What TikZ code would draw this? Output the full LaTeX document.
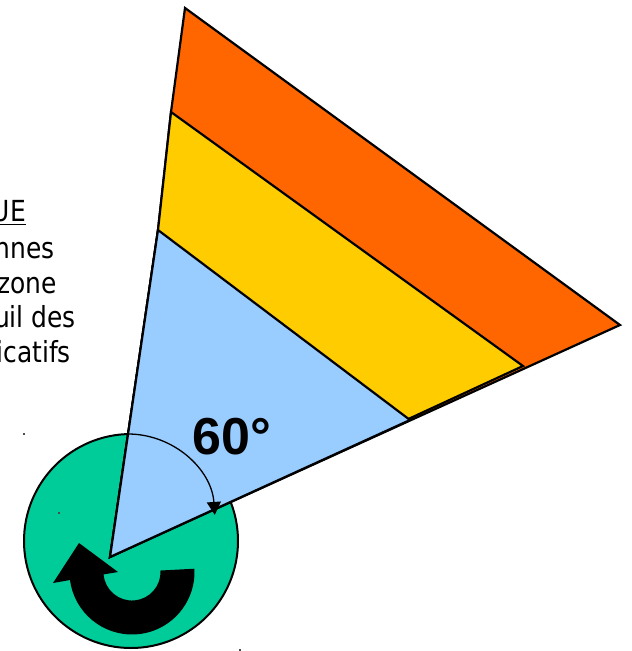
\documentclass[tikz,border=0pt]{standalone}
\usepackage{fontspec}
\setmainfont{DejaVu Sans}
\newfontfamily\labelfont[FakeStretch=0.86]{DejaVu Sans}
\newfontfamily\anglefont{Liberation Sans}
\usetikzlibrary{arrows.meta}
\definecolor{orangewedge}{HTML}{FF6600}
\definecolor{yellowwedge}{HTML}{FFCC00}
\definecolor{bluewedge}{HTML}{99CCFF}
\definecolor{greendisc}{HTML}{00CC99}
\tikzset{
  wedge/.style={draw=black, line width=2.2pt, line join=miter},
  disc/.style={draw=black, line width=2pt, fill=greendisc},
  sidetext/.style={anchor=base east, inner sep=0pt, font=\labelfont\fontsize{29}{35}\selectfont},
  angletext/.style={anchor=base west, inner sep=0pt, font=\anglefont\bfseries\fontsize{52}{60}\selectfont},
  anglearc/.style={draw=black, line width=1.3pt, -{Triangle[length=13pt,width=14pt]}},
  speck/.style={fill=black!70}
}
\begin{document}
\begin{tikzpicture}[x=1pt,y=-1pt]
\useasboundingbox (0,0) rectangle (632,651);
\clip (0,0) rectangle (632,651);

% key points
\coordinate (apex) at (110,557);
\coordinate (o1) at (185,8);
\coordinate (o2) at (620,325);
\coordinate (y1) at (171,112);
\coordinate (y2) at (523,366);
\coordinate (b1) at (158,230);
\coordinate (b2) at (410,420);
\coordinate (discc) at (131,541);
\coordinate (rotc) at (132,572);
\coordinate (arcc) at (128,521);

% green disc
\draw[disc] (discc) circle[radius=107];

% wedges
\filldraw[wedge, fill=orangewedge] (apex) -- (b1) -- (y1) -- (o1) -- (o2) -- cycle;
\filldraw[wedge, fill=yellowwedge] (apex) -- (b1) -- (y1) -- (y2) -- cycle;
\filldraw[wedge, fill=bluewedge] (apex) -- (b1) -- (b2) -- cycle;

% angle arc
\draw[anglearc] (arcc) ++(-90:87) arc[start angle=-90, end angle=-4, radius=87];

% rotation arrow
\fill[black] (194.4,568.7) arc[start angle=-3, end angle=172.6, radius=62.5]
  -- (53,583) -- (79,543) -- (118,572) -- (103.6,574.4)
  arc[start angle=175.2, end angle=-3, radius=28.5] -- cycle;

% angle label
\node[angletext] (angle) at (192,454) {60°};

% cropped side text
\node[sidetext] (t1) at (26,221) {UE};
\draw[line width=1.6pt] (0,224.5) -- (25.5,224.5);
\node[sidetext] (t2) at (55,258) {nnes};
\node[sidetext] (t3) at (57,293) {zone};
\node[sidetext] (t4) at (76,327) {uil des};
\node[sidetext] (t5) at (71,362) {icatifs};

% stray specks
\fill[speck] (23.3,433.3) rectangle (24.8,434.8);
\fill[speck] (58.3,512.3) rectangle (59.8,513.8);
\fill[speck] (239.3,649.3) rectangle (240.8,650.8);
\end{tikzpicture}
\end{document}
